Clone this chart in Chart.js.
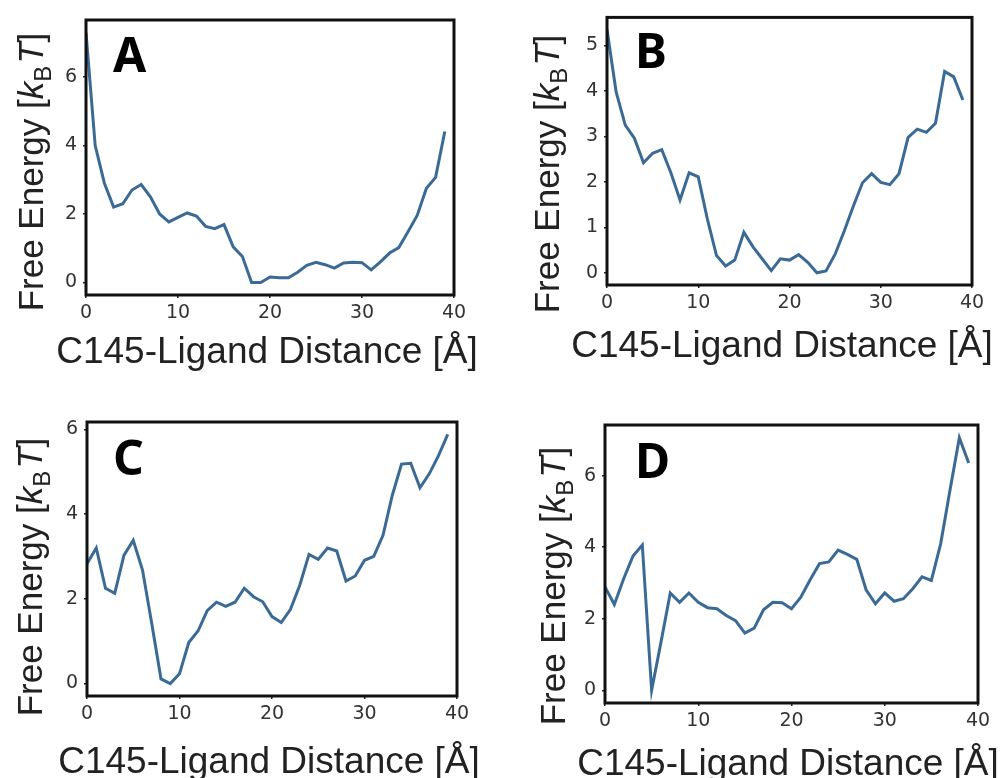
<!DOCTYPE html>
<html lang="en">
<head>
    <meta charset="UTF-8">
    <title>Free Energy vs C145-Ligand Distance</title>
    <script src="https://cdn.jsdelivr.net/npm/chart.js"></script>
    <style>
        body { margin: 0; background: #fff; }
        .wrap { position: relative; width: 1003px; height: 778px; overflow: hidden; }
        canvas { position: absolute; }
    </style>
</head>
<body>
    <div class="wrap">
        <canvas id="panelA" width="500" height="390" style="left:0;top:0"></canvas>
        <canvas id="panelB" width="503" height="390" style="left:500px;top:0"></canvas>
        <canvas id="panelC" width="500" height="388" style="left:0;top:390px"></canvas>
        <canvas id="panelD" width="503" height="388" style="left:500px;top:390px"></canvas>
    </div>

    <script>
        // distance in Angstrom, same for all four panels
        const distance = [0, 1, 2, 3, 4, 5, 6, 7, 8, 9, 10, 11, 12, 13, 14, 15, 16, 17, 18, 19,
                          20, 21, 22, 23, 24, 25, 26, 27, 28, 29, 30, 31, 32, 33, 34, 35, 36, 37, 38, 39];

        // free energy in kB*T
        const energyA = [7.3, 4.0, 2.9, 2.2, 2.3, 2.7, 2.86, 2.5, 2.0, 1.77, 1.9, 2.03, 1.94, 1.64, 1.57, 1.69, 1.04, 0.76, 0, 0,
                         0.16, 0.14, 0.14, 0.3, 0.5, 0.59, 0.52, 0.42, 0.57, 0.59, 0.58, 0.37, 0.6, 0.86, 1.02, 1.48, 1.96, 2.75, 3.07, 4.41];
        const energyB = [5.35, 3.98, 3.25, 2.96, 2.42, 2.63, 2.71, 2.2, 1.6, 2.2, 2.11, 1.18, 0.38, 0.15, 0.28, 0.89, 0.57, 0.31, 0.05, 0.31,
                         0.28, 0.4, 0.23, 0, 0.04, 0.41, 0.92, 1.47, 1.98, 2.18, 1.99, 1.94, 2.18, 2.98, 3.16, 3.09, 3.29, 4.43, 4.31, 3.8];
        const energyC = [2.83, 3.2, 2.25, 2.13, 3.03, 3.38, 2.68, 1.42, 0.11, 0, 0.23, 0.97, 1.24, 1.72, 1.92, 1.82, 1.92, 2.25, 2.05, 1.93,
                         1.58, 1.44, 1.75, 2.32, 3.05, 2.93, 3.2, 3.13, 2.42, 2.54, 2.91, 3.0, 3.5, 4.44, 5.18, 5.2, 4.62, 4.95, 5.38, 5.88];
        const energyD = [2.89, 2.4, 3.12, 3.75, 4.06, 0, 1.34, 2.72, 2.46, 2.72, 2.46, 2.31, 2.28, 2.09, 1.95, 1.6, 1.74, 2.25, 2.46, 2.45,
                         2.28, 2.6, 3.09, 3.54, 3.59, 3.92, 3.8, 3.66, 2.81, 2.42, 2.72, 2.49, 2.56, 2.84, 3.17, 3.07, 4.1, 5.6, 7.06, 6.35];

        const xTicks = [0, 10, 20, 30, 40];
        const yTicksA = [0, 2, 4, 6];
        const yTicksB = [0, 1, 2, 3, 4, 5];
        const yTicksC = [0, 2, 4, 6];
        const yTicksD = [0, 2, 4, 6];

        const xTitle = 'C145-Ligand Distance [Å]';
        const lineColor = '#3b6b95';
        const textColor = '#222';

        // draws the frame, the axis titles and the panel letter
        const panelText = {
            id: 'panelText',
            afterDatasetsDraw(chart, args, opts) {
                const ctx = chart.ctx;
                const a = chart.chartArea;
                ctx.save();
                ctx.strokeStyle = '#111';
                ctx.lineWidth = 3;
                ctx.strokeRect(a.left, a.top, a.right - a.left, a.bottom - a.top);

                ctx.fillStyle = textColor;
                // x title
                ctx.font = '37px "Liberation Sans", Arial, sans-serif';
                ctx.textAlign = 'center';
                ctx.textBaseline = 'alphabetic';
                ctx.fillText(xTitle, opts.xTitleX, opts.xTitleY);

                // y title with k_B T
                const parts = [
                    { t: 'Free Energy [', f: '35px "Liberation Sans", Arial, sans-serif', dy: 0 },
                    { t: 'k', f: 'italic 35px "Liberation Sans", Arial, sans-serif', dy: 0 },
                    { t: 'B', f: '24px "Liberation Sans", Arial, sans-serif', dy: 8 },
                    { t: 'T', f: 'italic 35px "Liberation Sans", Arial, sans-serif', dy: 0, gap: 2 },
                    { t: ']', f: '35px "Liberation Sans", Arial, sans-serif', dy: 0 }
                ];
                let total = 0;
                parts.forEach(p => { ctx.font = p.f; p.w = ctx.measureText(p.t).width; total += p.w + (p.gap || 0); });
                ctx.translate(opts.yTitleX, opts.yTitleY);
                ctx.rotate(-Math.PI / 2);
                ctx.textAlign = 'left';
                let x = -total / 2;
                parts.forEach(p => {
                    x += (p.gap || 0);
                    ctx.font = p.f;
                    ctx.fillText(p.t, x, p.dy);
                    x += p.w;
                });
                ctx.setTransform(1, 0, 0, 1, 0, 0);

                // panel letter
                ctx.fillStyle = '#000';
                ctx.font = 'bold 48px "Noto Sans", "DejaVu Sans", sans-serif';
                ctx.textAlign = 'left';
                ctx.fillText(opts.letter, opts.letterX, opts.letterY);
                ctx.restore();
            }
        };

        function makePanel(id, values, yTicks, letter, box, text) {
            const canvas = document.getElementById(id);
            const lo = Math.min(...values), hi = Math.max(...values);
            const pad = (hi - lo) * 0.05;
            const tickFont = { family: '"DejaVu Sans", sans-serif', size: 19 };

            return new Chart(canvas.getContext('2d'), {
                type: 'line',
                data: {
                    labels: distance,
                    datasets: [{
                        data: distance.map((d, i) => ({ x: d, y: values[i] })),
                        borderColor: lineColor,
                        borderWidth: 3,
                        pointRadius: 0,
                        fill: false,
                        tension: 0
                    }]
                },
                options: {
                    responsive: false,
                    animation: false,
                    devicePixelRatio: 1,
                    layout: { padding: { left: 0, top: box.top, right: canvas.width - box.right, bottom: 0 } },
                    plugins: {
                        legend: { display: false },
                        tooltip: { enabled: false },
                        panelText: Object.assign({ letter: letter }, text)
                    },
                    scales: {
                        x: {
                            type: 'linear',
                            min: 0,
                            max: 40,
                            afterFit: s => { s.height = canvas.height - box.bottom; },
                            afterBuildTicks: s => { s.ticks = xTicks.map(v => ({ value: v })); },
                            border: { display: false },
                            grid: { drawOnChartArea: false, drawTicks: true, tickLength: 3, color: '#222', lineWidth: 1.5 },
                            ticks: { font: tickFont, color: '#333', padding: 4, maxRotation: 0 }
                        },
                        y: {
                            min: lo - pad,
                            max: hi + pad,
                            afterFit: s => { s.width = box.left; },
                            afterBuildTicks: s => { s.ticks = yTicks.map(v => ({ value: v })); },
                            border: { display: false },
                            grid: { drawOnChartArea: false, drawTicks: true, tickLength: 3, color: '#222', lineWidth: 1.5 },
                            ticks: { font: tickFont, color: '#333', padding: 6 }
                        }
                    }
                },
                plugins: [panelText]
            });
        }

        makePanel('panelA', energyA, yTicksA, 'A',
            { left: 86, right: 454, top: 20, bottom: 295 },
            { xTitleX: 267, xTitleY: 363, yTitleX: 43, yTitleY: 172, letterX: 113, letterY: 72 });
        makePanel('panelB', energyB, yTicksB, 'B',
            { left: 107, right: 472, top: 14, bottom: 285 },
            { xTitleX: 282, xTitleY: 357, yTitleX: 59, yTitleY: 174, letterX: 135, letterY: 68 });
        makePanel('panelC', energyC, yTicksC, 'C',
            { left: 87, right: 457, top: 32, bottom: 306 },
            { xTitleX: 269, xTitleY: 383, yTitleX: 42, yTitleY: 187, letterX: 113, letterY: 85 });
        makePanel('panelD', energyD, yTicksD, 'D',
            { left: 105, right: 478, top: 35, bottom: 313 },
            { xTitleX: 288, xTitleY: 385, yTitleX: 65, yTitleY: 196, letterX: 135, letterY: 88 });
    </script>
</body>
</html>
